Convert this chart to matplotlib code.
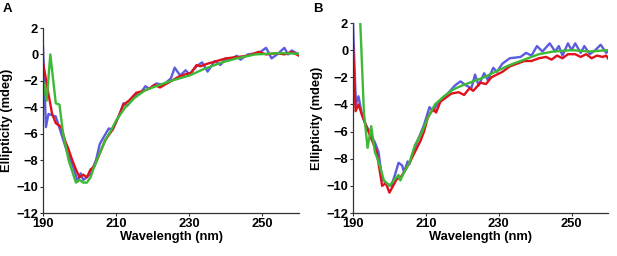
import numpy as np
import matplotlib.pyplot as plt

plt.rcParams['font.family'] = ['Liberation Sans', 'DejaVu Sans']
plt.rcParams['font.weight'] = 'bold'

# ---------------------- Data ----------------------
# Panel A
a_blue_x = [190, 190.8, 191.5, 192.5, 193.5, 195, 196.5, 198, 199.5, 200.3, 201, 202, 203,
            204.5, 205.5, 206.5, 208, 209, 211, 212, 213, 215, 217, 218, 219, 221, 223, 225,
            226, 227.5, 229, 230, 232, 233.5, 235, 237, 238.5, 240, 241, 243, 244, 246, 249,
            251, 252.5, 254, 256, 257, 258, 260]
a_blue_y = [0.6, -5.5, -4.5, -4.6, -4.7, -6.0, -7.3, -8.3, -9.6, -9.0, -9.5, -9.3, -9.0,
            -8.0, -6.8, -6.3, -5.6, -5.7, -4.5, -3.7, -3.9, -3.2, -2.8, -2.4, -2.6, -2.2, -2.3, -1.8,
            -1.0, -1.6, -1.2, -1.5, -0.9, -0.6, -1.3, -0.5, -0.8, -0.3, -0.4, -0.1, -0.4, 0.0, 0.1,
            0.5, -0.3, 0.0, 0.5, 0.0, 0.3, 0.0]

a_red_x = [190, 191.5, 192.5, 193.5, 195, 196, 197, 198, 199, 200, 201, 202, 203, 204,
           205.5, 207, 209, 210.5, 212, 213.5, 215.5, 217, 219, 220.5, 222, 224.5, 227, 229,
           230.5, 232, 233, 235, 240, 243, 246, 249, 251, 254, 256, 258, 260]
a_red_y = [-0.6, -3.0, -4.5, -5.2, -5.5, -6.5, -7.2, -8.0, -8.7, -9.3, -9.1, -9.3, -8.7, -8.5,
           -7.5, -6.5, -5.7, -4.8, -3.8, -3.5, -2.9, -2.8, -2.6, -2.3, -2.5, -2.1, -1.7, -1.5,
           -1.4, -0.8, -0.9, -0.7, -0.3, -0.2, -0.1, 0.2, 0.0, 0.1, 0.0, 0.2, -0.1]

a_green_x = [190, 191, 192, 193.5, 194.5, 195.5, 197, 199, 200, 201, 202, 203, 204, 205.5,
             207, 208.5, 210, 212.5, 215, 218, 221, 225, 230, 234, 239, 243, 248, 255, 260]
a_green_y = [-2.0, -3.5, 0.0, -3.7, -3.8, -6.0, -8.0, -9.7, -9.5, -9.7, -9.7, -9.3, -8.5, -7.5,
             -6.5, -5.8, -5.0, -4.0, -3.3, -2.7, -2.4, -2.0, -1.6, -1.1, -0.6, -0.3, 0.0, 0.1, 0.05]

# Panel B
b_blue_x = [190, 190.8, 191.5, 192.5, 193.5, 194.5, 196, 197, 198, 199, 200.5, 201.5, 202.5,
            203.5, 204, 205, 205.5, 206.5, 208, 209.5, 211, 212, 213.5, 216, 218, 219.5, 221,
            222.5, 223.5, 224.5, 226, 227, 228.5, 229.5, 231, 233, 236, 237.5, 239, 240.5, 242,
            244, 245.5, 246.5, 247.5, 249, 250, 251, 252.5, 253.5, 255, 256.5, 258, 259.5, 260]
b_blue_y = [2.0, -4.0, -3.4, -4.8, -5.5, -6.0, -6.8, -7.5, -9.5, -9.8, -10.0, -9.2, -8.3,
            -8.5, -9.0, -8.2, -8.4, -7.5, -6.5, -5.5, -4.2, -4.5, -3.8, -3.2, -2.6, -2.3, -2.6,
            -2.8, -1.8, -2.6, -1.7, -2.2, -1.3, -1.6, -1.0, -0.6, -0.5, -0.2, -0.4, 0.3, -0.1,
            0.5, -0.1, 0.3, -0.4, 0.5, 0.0, 0.5, -0.2, 0.3, -0.3, 0.0, 0.4, -0.2, -0.1]

b_red_x = [190, 190.7, 191.5, 192.5, 193.5, 195, 196.5, 198, 199, 200, 201, 202, 203, 204,
           205.5, 207, 208.5, 209.5, 210.5, 212, 212.8, 214, 215.5, 217, 219, 220.5, 222, 223,
           225, 226.5, 228, 229.5, 231, 233, 235, 237, 239, 241, 243, 244.5, 246, 247.5, 249,
           251, 252.5, 254, 255.5, 257, 258.5, 259.5, 260]
b_red_y = [0.3, -4.5, -4.0, -4.8, -5.5, -6.5, -7.5, -10.0, -9.8, -10.5, -10.0, -9.5, -9.4, -9.0,
           -8.3, -7.5, -6.7, -6.0, -5.0, -4.3, -4.6, -3.8, -3.5, -3.2, -3.1, -3.3, -2.8, -3.0,
           -2.4, -2.5, -2.0, -1.8, -1.6, -1.2, -1.0, -0.8, -0.8, -0.6, -0.5, -0.7, -0.4, -0.6, -0.3,
           -0.3, -0.5, -0.3, -0.6, -0.4, -0.5, -0.4, -0.6]

b_green_x = [192, 193, 194, 195, 196, 197, 198.5, 200, 201.5, 202.5, 203, 204, 205.5, 207,
             209, 210.5, 212.5, 215, 217.5, 220, 223, 226, 229, 233, 237, 241, 245, 250, 255, 260]
b_green_y = [2.0, -4.6, -7.2, -5.6, -7.5, -8.2, -9.6, -10.0, -9.5, -9.2, -9.6, -9.0, -8.3, -7.0,
             -6.0, -5.0, -4.0, -3.4, -2.9, -2.6, -2.3, -2.0, -1.6, -1.1, -0.7, -0.3, -0.1, 0.0, -0.1, 0.0]

blue = "#5c5ce0"
red = "#e0111b"
green = "#3dba35"

fig = plt.figure(figsize=(6.17, 2.56), dpi=100)
W, H = 617, 256


def panel(rect_px, series, letter, letter_xy):
    l, r, t, b = rect_px
    ax = fig.add_axes([l / W, 1 - b / H, (r - l) / W, (b - t) / H])
    for x, y, c in series:
        ax.plot(x, y, color=c, lw=1.7, solid_joinstyle="round")
    ax.set_xlim(190, 260)
    ax.set_ylim(-12, 2)
    ax.set_xticks([190, 210, 230, 250])
    ax.set_yticks(np.arange(-12, 3, 2))
    for s in ["top", "right"]:
        ax.spines[s].set_visible(False)
    for s in ["left", "bottom"]:
        ax.spines[s].set_color("#333333")
        ax.spines[s].set_linewidth(0.9)
    ax.tick_params(direction="out", length=2.5, width=0.8, color="#333333",
                   labelsize=9.3, pad=1)
    ax.set_xlabel("Wavelength (nm)", fontsize=9.3, fontweight="bold", labelpad=1)
    ax.set_ylabel("Ellipticity (mdeg)", fontsize=9.3, fontweight="bold", labelpad=2)
    fig.text(letter_xy[0] / W, 1 - letter_xy[1] / H, letter, fontsize=9.5,
             fontweight="bold", ha="left", va="center")
    return ax


panel((43, 299, 28, 213),
      [(a_blue_x, a_blue_y, blue), (a_red_x, a_red_y, red), (a_green_x, a_green_y, green)],
      "A", (3, 9))
panel((353, 608, 23, 213),
      [(b_blue_x, b_blue_y, blue), (b_red_x, b_red_y, red), (b_green_x, b_green_y, green)],
      "B", (313, 9))

fig.savefig("out.png", dpi=100)
